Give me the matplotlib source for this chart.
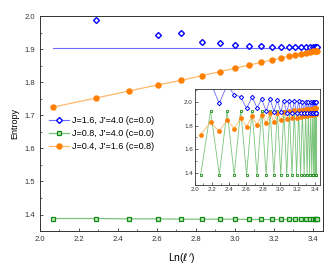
import matplotlib
matplotlib.use("Agg")
import matplotlib.pyplot as plt
from matplotlib.ticker import MultipleLocator
import numpy as np

plt.rcParams['font.family'] = ['Liberation Sans', 'DejaVu Sans']
plt.rcParams['mathtext.fontset'] = 'dejavusans'

# x = Ln(l') for subsystem sizes l = 8 ... 48
x_all = np.array([2.068, 2.183, 2.285, 2.376, 2.459, 2.535, 2.604, 2.668, 2.726, 2.781,
                  2.832, 2.879, 2.923, 2.964, 3.003, 3.039, 3.073, 3.105, 3.134, 3.162,
                  3.188, 3.212, 3.235, 3.256, 3.276, 3.294, 3.311, 3.326, 3.340, 3.353,
                  3.365, 3.376, 3.385, 3.393, 3.400, 3.406, 3.411, 3.415, 3.417, 3.419,
                  3.420])

# J=1.6, J'=4.0
blue_all = np.array([2.200, 2.160, 1.987, 2.140, 2.060, 2.042, 1.944, 2.040, 1.949, 2.022,
                     1.921, 2.024, 1.918, 2.012, 1.913, 2.010, 1.910, 2.006, 1.909, 2.004,
                     1.908, 2.003, 1.908, 2.002, 1.907, 2.001, 1.907, 2.000, 1.907, 2.000,
                     1.907, 1.999, 1.907, 1.999, 1.906, 1.999, 1.906, 1.999, 1.906, 1.999,
                     1.906])
# J=0.8, J'=4.0
green_all = np.array([1.388, 1.924, 1.388, 1.924, 1.387, 1.924, 1.387, 1.924, 1.386, 1.924,
                      1.386, 1.924, 1.386, 1.924, 1.386, 1.924, 1.385, 1.924, 1.385, 1.924,
                      1.385, 1.924, 1.385, 1.924, 1.385, 1.924, 1.385, 1.924, 1.385, 1.924,
                      1.385, 1.924, 1.385, 1.924, 1.385, 1.924, 1.385, 1.924, 1.385, 1.924,
                      1.385])
# J=0.4, J'=1.6
orange_all = np.array([1.725, 1.827, 1.752, 1.849, 1.774, 1.864, 1.792, 1.878, 1.806, 1.892,
                       1.820, 1.902, 1.832, 1.910, 1.843, 1.917, 1.852, 1.923, 1.860, 1.928,
                       1.867, 1.932, 1.873, 1.935, 1.879, 1.938, 1.883, 1.940, 1.887, 1.942,
                       1.890, 1.943, 1.892, 1.944, 1.894, 1.945, 1.895, 1.945, 1.896, 1.946,
                       1.896])

# fitted line in the main panel (c=0.0)
blue_fit_x = [2.068, 3.420]
blue_fit_y = [1.904, 1.904]

labels = ["J=1.6, J'=4.0 (c=0.0)", "J=0.8, J'=4.0 (c=0.0)", "J=0.4, J'=1.6 (c=0.8)"]

# even l only in the main panel
x_even = x_all[::2]
blue_even = blue_all[::2]
green_even = green_all[::2]
orange_even = orange_all[::2]

c_blue, c_blue_l = '#0000ff', '#6a6aff'
c_green, c_green_l = '#138a13', '#7cc47c'
c_orange, c_orange_l = '#ff7f00', '#ffb86a'

fig = plt.figure(figsize=(3.36, 2.69), dpi=100)
ax = fig.add_axes([0.119, 0.141, 0.841, 0.799])

ax.plot(blue_fit_x, blue_fit_y, color=c_blue_l, lw=0.8, zorder=2)
ax.plot(x_even, green_even, color=c_green_l, lw=0.9, zorder=2)
ax.plot(x_even, orange_even, color=c_orange_l, lw=0.9, zorder=2)
ax.plot(x_even, blue_even, ls='none', marker='D', ms=3.0, mfc='white', mec=c_blue, mew=1.0, zorder=3)
ax.plot(x_even, green_even, ls='none', marker='s', ms=2.6, mfc='#bfe6bf', mec=c_green, mew=0.9, zorder=3)
ax.plot(x_even, orange_even, ls='none', marker='o', ms=3.6, mfc=c_orange, mec=c_orange, zorder=3)

ax.set_xlim(2.0, 3.45)
ax.set_ylim(1.35, 2.0)
ax.xaxis.set_major_locator(MultipleLocator(0.2))
ax.xaxis.set_minor_locator(MultipleLocator(0.1))
ax.yaxis.set_major_locator(MultipleLocator(0.1))
ax.yaxis.set_minor_locator(MultipleLocator(0.05))
ax.tick_params(which='both', direction='in', labelsize=5.5, labelcolor='#333333', color='#333333')
ax.tick_params(which='major', length=2.5, width=0.6)
ax.tick_params(which='minor', length=1.5, width=0.5)
for s in ax.spines.values():
    s.set_color('#333333')
    s.set_linewidth(0.7)
ax.set_xlabel("Ln($\\ell'$)", fontsize=7.5, labelpad=6)
ax.set_ylabel("Entropy", fontsize=6.5, labelpad=4)

h1, = ax.plot([], [], color=c_blue_l, lw=0.8, marker='D', ms=3.0, mfc='white', mec=c_blue, mew=1.0)
h2, = ax.plot([], [], color=c_green_l, lw=0.9, marker='s', ms=2.6, mfc='#bfe6bf', mec=c_green, mew=0.9)
h3, = ax.plot([], [], color=c_orange_l, lw=0.9, marker='o', ms=3.6, mfc=c_orange, mec=c_orange)
ax.legend([h1, h2, h3], labels, loc='upper left', bbox_to_anchor=(0.01, 0.565), frameon=False,
          fontsize=6.5, handlelength=2.2, handletextpad=0.3, labelspacing=0.45, borderpad=0.2)

# inset: all l
ins = fig.add_axes([0.580, 0.312, 0.372, 0.356])
ins.plot(x_all, green_all, color=c_green_l, lw=0.6, zorder=2)
ins.plot(x_all, orange_all, color=c_orange_l, lw=0.6, zorder=2)
ins.plot(x_all, blue_all, color=c_blue_l, lw=0.6, zorder=2)
ins.plot(x_all, green_all, ls='none', marker='s', ms=1.9, mfc='white', mec=c_green, mew=0.6, zorder=3)
ins.plot(x_all, orange_all, ls='none', marker='o', ms=2.4, mfc=c_orange, mec=c_orange, zorder=3)
ins.plot(x_all, blue_all, ls='none', marker='D', ms=2.2, mfc='white', mec=c_blue, mew=0.7, zorder=4)
ins.set_xlim(2.0, 3.46)
ins.set_ylim(1.30, 2.105)
ins.xaxis.set_major_locator(MultipleLocator(0.2))
ins.xaxis.set_minor_locator(MultipleLocator(0.1))
ins.yaxis.set_major_locator(MultipleLocator(0.2))
ins.yaxis.set_minor_locator(MultipleLocator(0.1))
ins.tick_params(which='both', direction='in', labelsize=4.5, labelcolor='#333333', color='#333333', pad=1.5)
ins.tick_params(which='major', length=2, width=0.5)
ins.tick_params(which='minor', length=1.2, width=0.4)
for s in ins.spines.values():
    s.set_color('#333333')
    s.set_linewidth(0.6)

fig.savefig("out.png", dpi=100)
